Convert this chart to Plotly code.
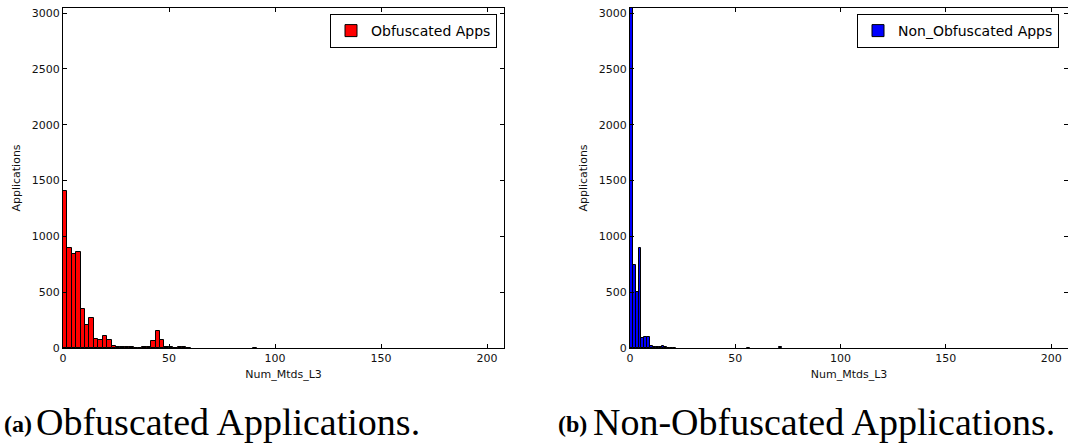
import numpy as np
import plotly.graph_objects as go

# Histogram counts per bin (bins start at 0); None marks an empty bin
obf_bin_width = 2.08
obf_counts = [1410, 895, 845, 860, 345, 210, 265, 85, 70, 108,
              68, 18, 10, 8, 6, 10, 4, 3, 8, 10,
              60, 155, 75, 8, 5, 4, 10, 5, 2, None,
              None, None, None, None, None, None, None, None, None, None,
              None, None, None, 4]

nonobf_bin_width = 1.36
nonobf_counts = [3045, 740, 505, 900, 88, 95, 100, 22, 12, 8,
                 5, 15, 8, 3, 2, 4, None, None, None, None,
                 None, None, None, None, None, None, None, None, None, None,
                 None, None, None, None, None, None, None, None, None, None,
                 None, 4, None, None, None, None, None, None, None, None,
                 None, None, 10]

x_ticks = [0, 50, 100, 150, 200]
y_ticks = [0, 500, 1000, 1500, 2000, 2500, 3000]
x_max = 208
y_max = 3045

W, H = 1068, 446
TICK_FONT = dict(family="DejaVu Sans", size=11, color="#111111")


def px_x(p):
    return p / W


def px_y(p):
    return 1 - p / H


fig = go.Figure()

fig.add_trace(go.Bar(
    x=np.arange(len(obf_counts)) * obf_bin_width,
    y=obf_counts,
    width=obf_bin_width,
    offset=0,
    marker=dict(color="#ff0000", line=dict(color="black", width=1)),
    name="Obfuscated Apps", showlegend=True,
    xaxis="x", yaxis="y", legend="legend",
))

fig.add_trace(go.Bar(
    x=np.arange(len(nonobf_counts)) * nonobf_bin_width,
    y=nonobf_counts,
    width=nonobf_bin_width,
    offset=0,
    marker=dict(color="#0000ff", line=dict(color="black", width=1)),
    name="Non_Obfuscated Apps", showlegend=True,
    xaxis="x2", yaxis="y2", legend="legend2",
))

axis_common = dict(
    showgrid=False, zeroline=False, showline=True, linecolor="black",
    linewidth=1, ticks="inside", ticklen=4, tickcolor="black",
    mirror="ticks", tickfont=TICK_FONT, automargin=False,
)

y_dom = [px_y(348), px_y(8)]

legend_common = dict(
    y=px_y(14), yanchor="top", bordercolor="black", borderwidth=1,
    bgcolor="white", font=dict(family="DejaVu Sans", size=14, color="black"),
    itemwidth=30, tracegroupgap=0,
)

fig.update_layout(
    width=W, height=H,
    margin=dict(l=0, r=0, t=0, b=0),
    plot_bgcolor="white", paper_bgcolor="white",
    bargap=0, showlegend=True,
    xaxis=dict(domain=[px_x(63), px_x(504)], range=[0, x_max],
               tickvals=x_ticks, anchor="y",
               title=dict(text="Num_Mtds_L3", font=TICK_FONT, standoff=6),
               **axis_common),
    yaxis=dict(domain=y_dom, range=[0, y_max], tickvals=y_ticks, anchor="x",
               title=dict(text="Applications", font=TICK_FONT, standoff=8),
               **axis_common),
    xaxis2=dict(domain=[px_x(630), 1.0], range=[0, x_max],
                tickvals=x_ticks, anchor="y2",
                title=dict(text="Num_Mtds_L3", font=TICK_FONT, standoff=6),
                **axis_common),
    yaxis2=dict(domain=y_dom, range=[0, y_max], tickvals=y_ticks, anchor="x2",
                title=dict(text="Applications", font=TICK_FONT, standoff=8),
                **axis_common),
    legend=dict(x=px_x(497), xanchor="right", **legend_common),
    legend2=dict(x=px_x(1059), xanchor="right", **legend_common),
)

# Sub-figure captions
serif = "Liberation Serif"
captions = [
    (33, 35, "(a)", "Obfuscated Applications."),
    (588, 592, "(b)", "Non-Obfuscated Applications."),
]
for tag_right, text_left, tag, text in captions:
    fig.add_annotation(x=px_x(tag_right), y=px_y(424), xref="paper", yref="paper",
                       xanchor="right", yanchor="middle", showarrow=False,
                       text="<b>%s</b>" % tag, borderpad=0,
                       font=dict(family=serif, size=24, color="black"))
    fig.add_annotation(x=px_x(text_left), y=px_y(422), xref="paper", yref="paper",
                       xanchor="left", yanchor="middle", showarrow=False,
                       text=text, borderpad=0,
                       font=dict(family=serif, size=38, color="black"))

fig.write_html("out.html")
